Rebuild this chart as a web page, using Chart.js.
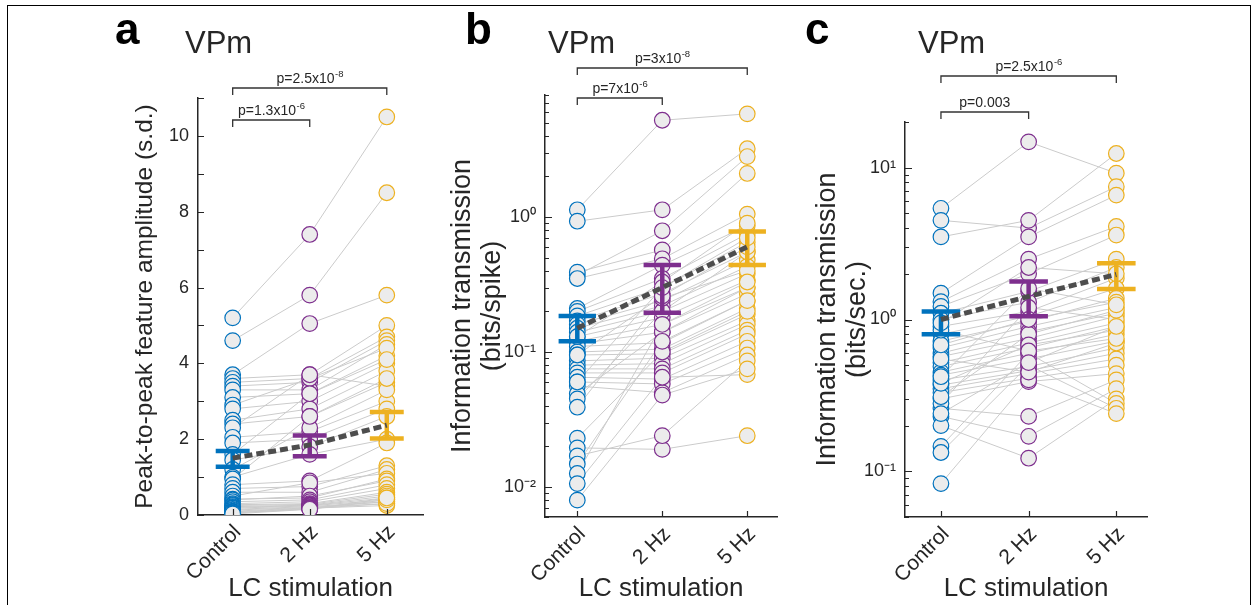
<!DOCTYPE html>
<html>
<head>
<meta charset="utf-8">
<script src="https://cdn.jsdelivr.net/npm/chart.js@4.4.1/dist/chart.umd.min.js"></script>
<style>
  html, body { margin: 0; padding: 0; background: #fff; }
  #fig { position: relative; width: 1253px; height: 605px; overflow: hidden; }
  #frame { position: absolute; left: 7px; top: 5px; width: 1244px; height: 640px; border: 1.5px solid #000; box-sizing: border-box; }
  canvas { position: absolute; top: 0; }
</style>
</head>
<body>
<div id="fig">
  <div id="frame"></div>
  <canvas id="panelA" width="340" height="605" style="left:100px"></canvas>
  <canvas id="panelB" width="350" height="605" style="left:440px"></canvas>
  <canvas id="panelC" width="463" height="605" style="left:790px"></canvas>
</div>
<script>
// categories on the x axis
const categories = ['Control', '2 Hz', '5 Hz'];
const groupColors = ['#0072BD', '#7E2F8E', '#EDB120'];

// panel a - peak-to-peak feature amplitude (s.d.), one entry per unit
const ampControl = [5.2, 4.6, 3.7, 3.6, 3.5, 3.4, 3.3, 3.1, 2.9, 2.8, 2.5, 2.4, 2.3, 2.05, 1.9, 1.6, 1.45, 1.2, 1.0, 0.95,
  0.8, 0.7, 0.6, 0.5, 0.42, 0.4, 0.35, 0.3, 0.27, 0.25, 0.22, 0.2, 0.18, 0.15, 0.13, 0.1, 0.08, 0.06, 0.05, 0.03];
const amp2Hz = [7.4, 5.8, 5.05, 3.7, 3.6, 3.5, 3.3, 3.2, 3.6, 3.0, 2.8, 2.6, 3.7, 2.2, 2.0, 3.2, 1.8, 2.3, 1.6, 2.6,
  0.9, 0.75, 0.6, 0.85, 0.45, 0.5, 0.4, 0.35, 0.3, 0.28, 0.26, 0.25, 0.24, 0.22, 0.2, 0.19, 0.18, 0.17, 0.16, 0.15];
const amp5Hz = [10.5, 8.5, 5.8, 5.0, 4.7, 4.6, 4.5, 4.2, 4.4, 4.0, 3.8, 3.5, 3.4, 3.0, 2.8, 4.1, 2.6, 3.3, 2.0, 3.6,
  1.9, 1.3, 1.2, 1.1, 0.95, 0.9, 0.8, 0.7, 0.6, 0.55, 0.5, 0.45, 0.4, 0.35, 0.3, 0.35, 0.25, 0.3, 0.4, 0.45];
const ampMean = [1.5, 1.85, 2.37];
const ampLow = [1.27, 1.55, 2.02];
const ampHigh = [1.69, 2.1, 2.72];
const ampTicks = [0, 2, 4, 6, 8, 10];

// panel b - information transmission (bits/spike)
const infoControl = [1.13, 0.93, 0.37, 0.39, 0.35, 0.21, 0.2, 0.185, 0.17, 0.16, 0.15, 0.14, 0.13, 0.12, 0.115, 0.11, 0.1, 0.095, 0.086,
  0.08, 0.075, 0.07, 0.065, 0.06, 0.056, 0.049, 0.045, 0.039, 0.023, 0.0195, 0.017, 0.0148, 0.0126, 0.0106, 0.008, 0.13, 0.095, 0.06];
const info2Hz = [5.2, 1.13, 0.79, 0.57, 0.49, 0.44, 0.35, 0.3, 0.27, 0.24, 0.22, 0.2, 0.18, 0.16, 0.14, 0.117, 0.105, 0.097, 0.09,
  0.082, 0.075, 0.07, 0.063, 0.058, 0.05, 0.14, 0.2, 0.25, 0.1, 0.019, 0.024, 0.12, 0.16, 0.065, 0.048, 0.33, 0.26, 0.3];
const info5Hz = [5.8, 3.2, 2.8, 2.1, 1.05, 0.86, 0.75, 0.65, 0.55, 0.48, 0.43, 0.38, 0.34, 0.3, 0.27, 0.24, 0.21, 0.19, 0.17,
  0.16, 0.145, 0.136, 0.12, 0.107, 0.095, 0.3, 0.55, 0.4, 0.2, 0.024, 0.086, 0.24, 0.33, 0.068, 0.075, 0.9, 0.6, 0.7];
const infoMean = [0.15, 0.3, 0.6];
const infoLow = [0.12, 0.195, 0.44];
const infoHigh = [0.185, 0.44, 0.78];
const infoTicks = [0.01, 0.1, 1];
const infoTickLabels = ['10\u207B\u00B2', '10\u207B\u00B9', '10\u2070'];

// panel c - information transmission (bits/sec.)
const rateControl = [5.4, 4.5, 3.5, 1.49, 1.31, 1.22, 1.1, 1.0, 0.9, 0.8, 0.72, 0.65, 0.6, 0.57, 0.52, 0.49, 0.45, 0.43, 0.4,
  0.37, 0.35, 0.33, 0.3, 0.26, 0.23, 0.2, 0.146, 0.133, 0.083, 0.28, 0.31, 0.38, 0.55, 0.68, 0.85, 0.95, 0.42, 0.24];
const rate2Hz = [14.8, 4.0, 4.5, 3.5, 2.5, 2.0, 1.53, 1.3, 1.13, 1.05, 0.97, 0.9, 0.83, 0.75, 0.7, 0.65, 0.6, 0.55, 0.49,
  0.46, 0.44, 0.41, 0.39, 0.23, 0.17, 0.122, 0.6, 0.5, 0.4, 1.2, 0.8, 0.68, 0.45, 1.0, 0.62, 2.2, 1.6, 0.52];
const rate5Hz = [9.2, 7.5, 12.4, 6.6, 4.1, 3.6, 2.5, 2.2, 1.87, 1.6, 1.38, 1.2, 1.1, 1.05, 0.95, 0.9, 0.8, 0.72, 0.65,
  0.6, 0.55, 0.5, 0.44, 0.4, 0.35, 0.3, 0.28, 0.26, 0.24, 1.0, 1.15, 0.85, 0.7, 1.3, 0.75, 2.0, 1.25, 0.9];
const rateMean = [1.0, 1.42, 1.98];
const rateLow = [0.8, 1.05, 1.59];
const rateHigh = [1.13, 1.78, 2.35];
const rateTicks = [0.1, 1, 10];
const rateTickLabels = ['10\u207B\u00B9', '10\u2070', '10\u00B9'];

const FONT = '"Liberation Sans", Arial, Helvetica, sans-serif';
Chart.defaults.font.family = FONT;
Chart.defaults.color = '#262626';

// inward ticks, significance brackets, panel letter and heading
const decor = {
  id: 'decor',
  afterDraw(chart, args, o) {
    const ctx = chart.ctx;
    const xs = chart.scales.x, ys = chart.scales.y;
    const area = chart.chartArea;
    ctx.save();
    ctx.strokeStyle = '#262626';
    ctx.lineWidth = 1.2;
    const marks = [];
    if (o.log) {
      const k0 = Math.floor(Math.log10(ys.min)), k1 = Math.ceil(Math.log10(ys.max));
      for (let k = k0; k <= k1; k++) {
        for (let m = 1; m <= 9; m++) {
          const v = m * Math.pow(10, k);
          if (v >= ys.min && v <= ys.max) marks.push([v, m === 1 ? 7 : 4]);
        }
      }
    } else {
      for (let v = ys.min; v <= ys.max; v += 1) marks.push([v, 6]);
    }
    ctx.beginPath();
    marks.forEach(([v, len]) => {
      const y = Math.round(ys.getPixelForValue(v)) + 0.5;
      ctx.moveTo(area.left, y);
      ctx.lineTo(area.left + len, y);
    });
    [1, 2, 3].forEach(v => {
      const x = Math.round(xs.getPixelForValue(v)) + 0.5;
      ctx.moveTo(x, area.bottom);
      ctx.lineTo(x, area.bottom - 6);
    });
    ctx.stroke();

    // p-value brackets
    o.brackets.forEach(b => {
      const x1 = xs.getPixelForValue(b.from), x2 = xs.getPixelForValue(b.to);
      ctx.strokeStyle = '#333';
      ctx.lineWidth = 1.3;
      ctx.beginPath();
      ctx.moveTo(x1, b.y + 7);
      ctx.lineTo(x1, b.y);
      ctx.lineTo(x2, b.y);
      ctx.lineTo(x2, b.y + 7);
      ctx.stroke();
      ctx.fillStyle = '#262626';
      ctx.textAlign = 'left';
      ctx.textBaseline = 'alphabetic';
      ctx.font = '14px ' + FONT;
      const w1 = ctx.measureText(b.text).width;
      ctx.font = '9.5px ' + FONT;
      const w2 = b.sup ? ctx.measureText(b.sup).width : 0;
      const x = (x1 + x2) / 2 - (w1 + w2) / 2;
      ctx.font = '14px ' + FONT;
      ctx.fillText(b.text, x, b.y - 5);
      if (b.sup) {
        ctx.font = '9.5px ' + FONT;
        ctx.fillText(b.sup, x + w1 + 0.5, b.y - 11);
      }
    });

    ctx.fillStyle = '#000';
    ctx.textAlign = 'left';
    ctx.textBaseline = 'alphabetic';
    ctx.font = 'bold 44px ' + FONT;
    ctx.fillText(o.letter, o.letterX - o.left, 44);
    ctx.fillStyle = '#262626';
    ctx.font = '31px ' + FONT;
    ctx.fillText('VPm', o.headX - o.left, 53);
    ctx.restore();
  }
};

function makePanel(id, p) {
  const groups = [p.control, p.hz2, p.hz5];
  // each unit joined across the three conditions, null breaks the line
  const joins = [];
  p.control.forEach((v, i) => {
    joins.push({x: 1, y: v}, {x: 2, y: p.hz2[i]}, {x: 3, y: p.hz5[i]}, {x: 3, y: null});
  });
  const datasets = [{
    data: joins, showLine: true, borderColor: '#cbcbcb', borderWidth: 1,
    pointRadius: 0, spanGaps: false, order: 5
  }];
  groups.forEach((vals, g) => {
    datasets.push({
      data: vals.map(v => ({x: g + 1, y: v})),
      pointRadius: 7.8, pointBorderWidth: 1.2,
      pointBackgroundColor: '#ececec', pointBorderColor: groupColors[g],
      showLine: false, order: 4
    });
  });
  const w = 0.22;
  groups.forEach((vals, g) => {
    const x = g + 1;
    datasets.push({
      data: [
        {x: x - w, y: p.high[g]}, {x: x + w, y: p.high[g]}, {x: x, y: null},
        {x: x, y: p.high[g]}, {x: x, y: p.low[g]}, {x: x, y: null},
        {x: x - w, y: p.low[g]}, {x: x + w, y: p.low[g]}
      ],
      showLine: true, spanGaps: false, borderColor: groupColors[g], borderWidth: 4.5,
      borderCapStyle: 'butt', pointRadius: 0, order: 3
    });
  });
  datasets.push({
    data: p.mean.map((v, g) => ({x: g + 1, y: v})),
    showLine: true, borderColor: '#4d4d4d', borderWidth: 5, borderDash: [8, 4],
    pointRadius: 0, order: 1
  });

  const el = document.getElementById(id);
  return new Chart(el.getContext('2d'), {
    type: 'scatter',
    data: {datasets},
    options: {
      responsive: false,
      animation: false,
      events: [],
      layout: {padding: {left: 0, right: p.padRight, top: p.padTop, bottom: 0}},
      plugins: {
        legend: {display: false},
        tooltip: {enabled: false},
        decor: {
          log: p.log, brackets: p.brackets, letter: p.letter,
          letterX: p.letterX, headX: p.headX, left: p.left
        }
      },
      scales: {
        x: {
          type: 'linear', min: p.xMin, max: p.xMax,
          afterBuildTicks: s => { s.ticks = [1, 2, 3].map(v => ({value: v})); },
          afterFit: s => { s.height = p.xHeight; },
          ticks: {
            callback: v => categories[v - 1], minRotation: 45, maxRotation: 45,
            autoSkip: false, font: {size: 21}, padding: 5, labelOffset: 5, color: '#262626'
          },
          grid: {display: false, drawTicks: false},
          border: {color: '#262626', width: 1.5},
          title: {display: true, text: 'LC stimulation', font: {size: 26}, color: '#262626', padding: {top: 0, bottom: 1}}
        },
        y: {
          type: p.log ? 'logarithmic' : 'linear', min: p.yMin, max: p.yMax,
          afterBuildTicks: s => { s.ticks = p.ticks.map(v => ({value: v})); },
          afterFit: s => { s.width = p.yWidth; },
          ticks: {
            callback: v => p.tickLabels[p.ticks.indexOf(v)], autoSkip: false,
            font: {size: 18}, padding: 9, color: '#262626'
          },
          grid: {display: false, drawTicks: false},
          border: {color: '#262626', width: 1.5},
          title: {
            display: true, text: p.yTitle, font: {size: p.titleSize, lineHeight: 1.1}, color: '#262626',
            padding: {top: p.titlePad, bottom: 0}
          }
        }
      }
    },
    plugins: [decor]
  });
}

makePanel('panelA', {
  control: ampControl, hz2: amp2Hz, hz5: amp5Hz, mean: ampMean, low: ampLow, high: ampHigh,
  ticks: ampTicks, tickLabels: ampTicks.map(String), log: false, yMin: 0, yMax: 11,
  xMin: 0.55, xMax: 3.47, left: 100, yWidth: 98, padRight: 17, padTop: 98, xHeight: 90,
  titleSize: 24.5, titlePad: 32,
  yTitle: 'Peak-to-peak feature amplitude (s.d.)',
  letter: 'a', letterX: 115, headX: 185,
  brackets: [
    {from: 1, to: 3, y: 88, text: 'p=2.5x10', sup: '-8'},
    {from: 1, to: 2, y: 120, text: 'p=1.3x10', sup: '-6'}
  ]
});

makePanel('panelB', {
  control: infoControl, hz2: info2Hz, hz5: info5Hz, mean: infoMean, low: infoLow, high: infoHigh,
  ticks: infoTicks, tickLabels: infoTickLabels, log: true, yMin: 0.006, yMax: 8,
  xMin: 0.62, xMax: 3.35, left: 440, yWidth: 105, padRight: 13, padTop: 95, xHeight: 88,
  titleSize: 27, titlePad: 8,
  yTitle: ['Information transmission', '(bits/spike)'],
  letter: 'b', letterX: 465, headX: 548,
  brackets: [
    {from: 1, to: 3, y: 68, text: 'p=3x10', sup: '-8'},
    {from: 1, to: 2, y: 98, text: 'p=7x10', sup: '-6'}
  ]
});

makePanel('panelC', {
  control: rateControl, hz2: rate2Hz, hz5: rate5Hz, mean: rateMean, low: rateLow, high: rateHigh,
  ticks: rateTicks, tickLabels: rateTickLabels, log: true, yMin: 0.05, yMax: 20,
  xMin: 0.59, xMax: 3.35, left: 790, yWidth: 115, padRight: 106, padTop: 122, xHeight: 88,
  titleSize: 27, titlePad: 23,
  yTitle: ['Information transmission', '(bits/sec.)'],
  letter: 'c', letterX: 805, headX: 918,
  brackets: [
    {from: 1, to: 3, y: 76, text: 'p=2.5x10', sup: '-6'},
    {from: 1, to: 2, y: 112, text: 'p=0.003', sup: ''}
  ]
});
</script>
</body>
</html>
